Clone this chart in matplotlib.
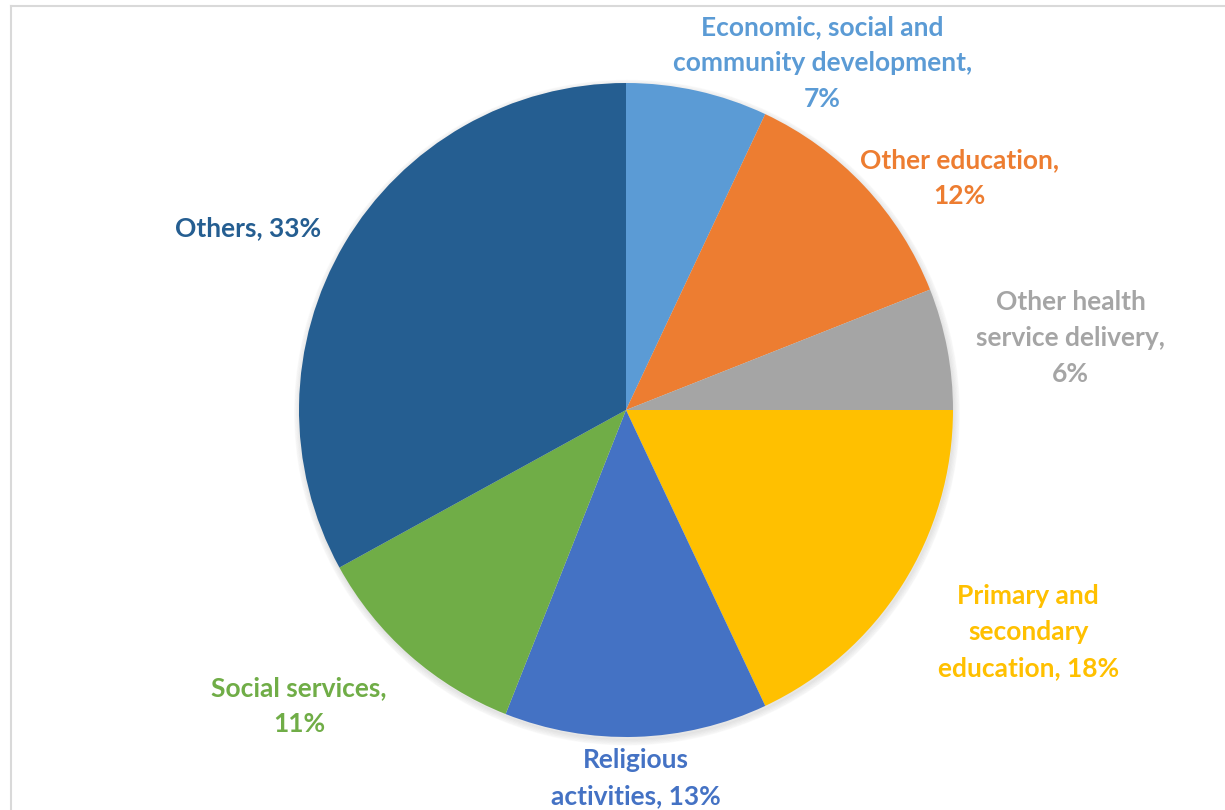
import matplotlib.pyplot as plt
from matplotlib.lines import Line2D
from matplotlib.patches import Circle

# data
labels = ['Economic, social and\ncommunity development,\n7%',
          'Other education,\n12%',
          'Other health\nservice delivery,\n6%',
          'Primary and\nsecondary\neducation, 18%',
          'Religious\nactivities, 13%',
          'Social services,\n11%',
          'Others, 33%']
shares = [7, 12, 6, 18, 13, 11, 33]
colors = ['#5B9BD5', '#ED7D31', '#A5A5A5', '#FFC000', '#4472C4', '#70AD47', '#255E91']
# label centres, in units of the pie radius
label_pos = [(0.60, 1.06), (1.02, 0.71), (1.36, 0.22), (1.23, -0.68),
             (0.03, -1.125), (-1.00, -0.905), (-1.156, 0.557)]

fig = plt.figure(figsize=(12.25, 8.1), dpi=100)
ax = fig.add_axes([0, 0, 1, 1])

# soft shadow under the pie
for i in range(5):
    ax.add_patch(Circle((0.003, -0.008), 1.0 + i * 0.004, color='black', alpha=0.018, zorder=0))

ax.pie(shares, colors=colors, startangle=90, counterclock=False, radius=1.0,
       wedgeprops=dict(linewidth=0), frame=True)
ax.set_xlim(-626 / 327, (1225 - 626) / 327)
ax.set_ylim(-400 / 327, 410 / 327)
ax.axis('off')

for txt, (x, y), c in zip(labels, label_pos, colors):
    ax.text(x, y, txt, color=c, ha='center', va='center', fontsize=19,
            fontweight='bold', family='Lato', linespacing=1.6)

# chart border (top and left edges visible)
fig.add_artist(Line2D([11 / 1225, 11 / 1225], [0, 1 - 6 / 810], color='#D9D9D9', lw=1.5))
fig.add_artist(Line2D([11 / 1225, 1], [1 - 6 / 810, 1 - 6 / 810], color='#D9D9D9', lw=1.5))

fig.savefig('out.png', dpi=100, facecolor='white')
